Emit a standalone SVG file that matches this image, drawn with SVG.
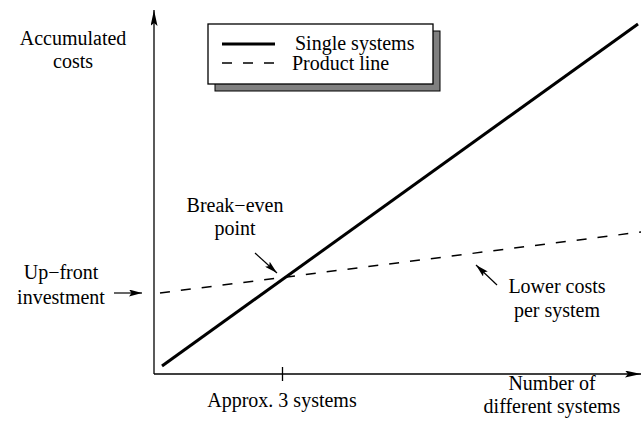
<svg xmlns="http://www.w3.org/2000/svg" width="641" height="424" viewBox="0 0 641 424">
  <style>
    text { font-family: "Liberation Serif", "Times New Roman", serif; font-size: 20px; fill: #000; }
    .mid { text-anchor: middle; }
    .axis { stroke: #000; stroke-width: 1.3; fill: none; }
    .solid { stroke: #000; stroke-width: 3; fill: none; }
    .dashed { stroke: #000; stroke-width: 1.5; fill: none; stroke-dasharray: 10 11; }
    .pointer { stroke: #000; stroke-width: 1.2; fill: none; }
  </style>
  <defs>
    <marker id="axis-head" viewBox="0 0 16 7" refX="16" refY="3.5" markerWidth="16" markerHeight="7" markerUnits="userSpaceOnUse" orient="auto">
      <path d="M0,0 L16,3.5 L0,7 L3,3.5 Z" fill="#000"/>
    </marker>
    <marker id="head" viewBox="0 0 13 7" refX="13" refY="3.5" markerWidth="13" markerHeight="7" markerUnits="userSpaceOnUse" orient="auto">
      <path d="M0,0 L13,3.5 L0,7 L2.5,3.5 Z" fill="#000"/>
    </marker>
  </defs>

  <!-- axes -->
  <g id="axes">
    <line class="axis" x1="154" y1="374" x2="154" y2="10" marker-end="url(#axis-head)"/>
    <line class="axis" x1="154" y1="374" x2="641" y2="374" marker-end="url(#axis-head)"/>
    <line class="axis" x1="282.5" y1="367" x2="282.5" y2="381"/>
  </g>

  <!-- cost curves -->
  <g id="curves">
    <line class="solid" x1="162" y1="366" x2="638" y2="24"/>
    <line class="dashed" x1="160" y1="293" x2="641" y2="232"/>
  </g>

  <!-- legend -->
  <g id="legend">
    <rect x="215" y="31" width="225" height="60" fill="#808080" stroke="#000" stroke-width="1"/>
    <rect x="208" y="24" width="225" height="60" fill="#fff" stroke="#000" stroke-width="1.3"/>
    <line class="solid" x1="222" y1="44" x2="275" y2="44"/>
    <line class="dashed" x1="222" y1="63" x2="275" y2="63"/>
    <text x="295" y="50">Single systems</text>
    <text x="292" y="70">Product line</text>
  </g>

  <!-- labels -->
  <g id="label-y">
    <text class="mid" x="73" y="45">Accumulated</text>
    <text class="mid" x="73" y="68">costs</text>
  </g>
  <g id="label-breakeven">
    <text class="mid" x="235" y="212">Break−even</text>
    <text class="mid" x="235" y="235">point</text>
  </g>
  <g id="label-upfront">
    <text class="mid" x="61" y="279">Up−front</text>
    <text class="mid" x="61" y="304">investment</text>
  </g>
  <g id="label-lower">
    <text class="mid" x="557" y="293">Lower costs</text>
    <text class="mid" x="557" y="317">per system</text>
  </g>
  <g id="label-approx">
    <text class="mid" x="282" y="407">Approx. 3 systems</text>
  </g>
  <g id="label-x">
    <text class="mid" x="552" y="390">Number of</text>
    <text class="mid" x="552" y="413">different systems</text>
  </g>

  <!-- pointers -->
  <g id="connectors">
    <line class="pointer" x1="114" y1="293" x2="142" y2="293" marker-end="url(#head)"/>
    <line class="pointer" x1="255" y1="253" x2="277" y2="273" marker-end="url(#head)"/>
    <line class="pointer" x1="497" y1="285" x2="476" y2="265" marker-end="url(#head)"/>
  </g>
</svg>
